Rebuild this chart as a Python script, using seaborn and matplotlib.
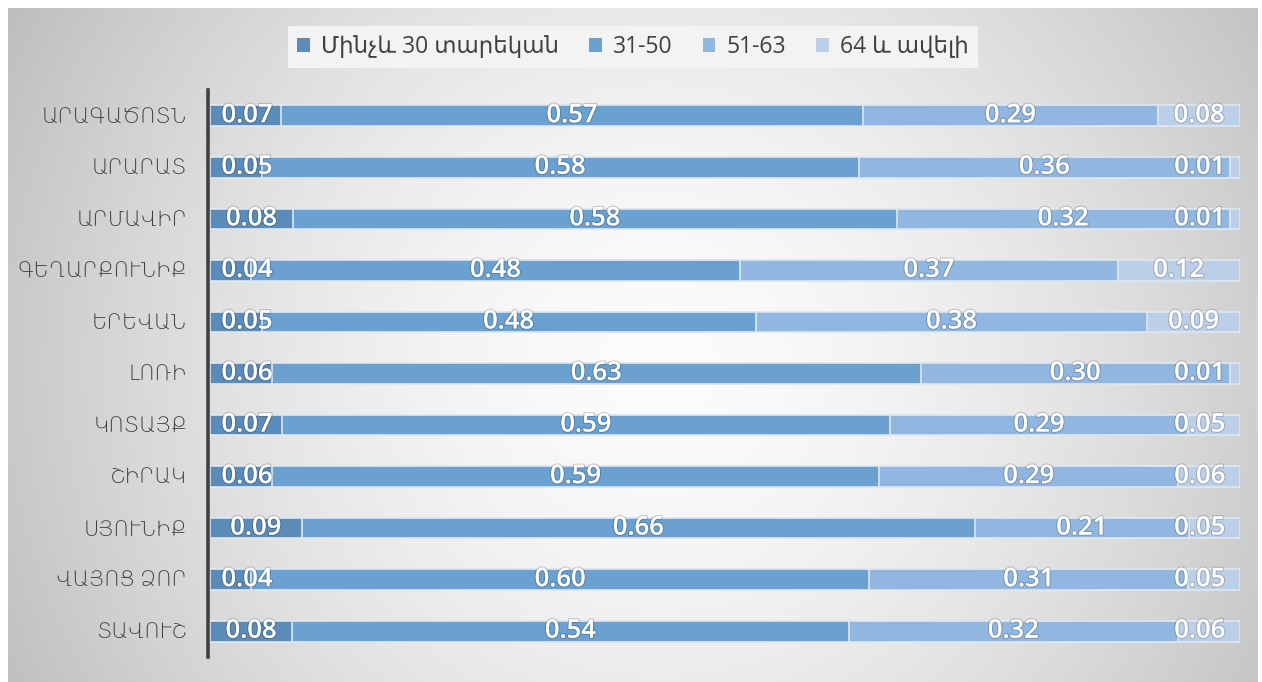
import numpy as np
import pandas as pd
import matplotlib
matplotlib.use("Agg")
import matplotlib.pyplot as plt
import matplotlib.patheffects as pe
from matplotlib.patches import Patch
import seaborn as sns

# Age structure by marz (shares)
regions = ["ԱՐԱԳԱԾՈՏՆ", "ԱՐԱՐԱՏ", "ԱՐՄԱՎԻՐ", "ԳԵՂԱՐՔՈՒՆԻՔ", "ԵՐԵՎԱՆ", "ԼՈՌԻ",
           "ԿՈՏԱՅՔ", "ՇԻՐԱԿ", "ՍՅՈՒՆԻՔ", "ՎԱՅՈՑ ՁՈՐ", "ՏԱՎՈՒՇ"]
age_groups = ["Մինչև 30 տարեկան", "31-50", "51-63", "64 և ավելի"]
under_30 = [0.07, 0.05, 0.08, 0.04, 0.05, 0.06, 0.07, 0.06, 0.09, 0.04, 0.08]
age_31_50 = [0.57, 0.58, 0.58, 0.48, 0.48, 0.63, 0.59, 0.59, 0.66, 0.60, 0.54]
age_51_63 = [0.29, 0.36, 0.32, 0.37, 0.38, 0.30, 0.29, 0.29, 0.21, 0.31, 0.32]
age_64_plus = [0.08, 0.01, 0.01, 0.12, 0.09, 0.01, 0.05, 0.06, 0.05, 0.05, 0.06]

colors = ["#5b8bb8", "#6aa1d0", "#91b6df", "#bccfe8"]
text_color = "#404040"

sns.set_theme(style="white")
plt.rcParams["font.family"] = ["Open Sans", "DejaVu Sans"]

values = np.array([under_30, age_31_50, age_51_63, age_64_plus]).T
shares = values / values.sum(axis=1, keepdims=True)   # 100% stacked
cum = np.cumsum(shares, axis=1)

df = pd.DataFrame({"region": regions})
for k in range(4):
    df[f"cum{k}"] = cum[:, k]

W, H = 1262, 682
fig = plt.figure(figsize=(W / 100, H / 100), dpi=100)
fig.patch.set_facecolor("white")

# radial grey backdrop
bg = fig.add_axes([8 / W, 0, 1250 / W, 674 / H], zorder=-5)
yy, xx = np.mgrid[0:674, 0:1250]
d = np.hypot(xx - 650, yy - 355)
shade = 252 - 52 * (d / 660) ** 1.6
shade = np.clip(shade, 185, 253) / 255.0
bg.imshow(np.dstack([shade, shade, shade]), aspect="auto", interpolation="bilinear")
bg.set_axis_off()

ax = fig.add_axes([208 / W, (H - 657) / H, (1240 - 208) / W, (657 - 90) / H])
ax.set_facecolor("none")

for k in range(3, -1, -1):
    sns.barplot(data=df, x=f"cum{k}", y="region", color=colors[k], orient="h",
                width=0.4, saturation=1, edgecolor="#dfe7f1", linewidth=1.2, ax=ax)

ax.set_xlim(-2 / 1030, 1)
ax.set_ylim(len(regions) - 0.5, -0.5)
ax.set_xlabel("")
ax.set_ylabel("")
ax.set_xticks([])
for s in ["top", "right", "bottom"]:
    ax.spines[s].set_visible(False)
ax.spines["left"].set_color(text_color)
ax.spines["left"].set_linewidth(2.6)
ax.tick_params(axis="y", length=0, pad=15)
for lbl in ax.get_yticklabels():
    lbl.set_fontsize(15)
    lbl.set_color(text_color)
    lbl.set_fontweight("light")

# value labels
shadow = [pe.withStroke(linewidth=1.6, foreground=(0, 0, 0, 0.18))]
for i in range(len(regions)):
    for k in range(4):
        start = cum[i, k] - shares[i, k]
        xc = start + shares[i, k] / 2
        xc = min(max(xc, 0.036), 0.961)
        ax.text(xc, i, f"{values[i, k]:.2f}", ha="center", va="center",
                color="white", fontsize=18.5, fontweight="semibold",
                path_effects=shadow)

handles = [Patch(facecolor=c, edgecolor="none") for c in colors]
leg = fig.legend(handles, age_groups, loc="center",
                 bbox_to_anchor=(633 / W, 1 - 47 / H), ncol=4, frameon=True,
                 facecolor="#f3f3f3", edgecolor="none", fancybox=False,
                 framealpha=1, handlelength=0.55, handleheight=0.55,
                 handletextpad=0.5, columnspacing=1.3, fontsize=16.5,
                 borderpad=0.4)
for t in leg.get_texts():
    t.set_color(text_color)

fig.savefig("out.png", dpi=100)
